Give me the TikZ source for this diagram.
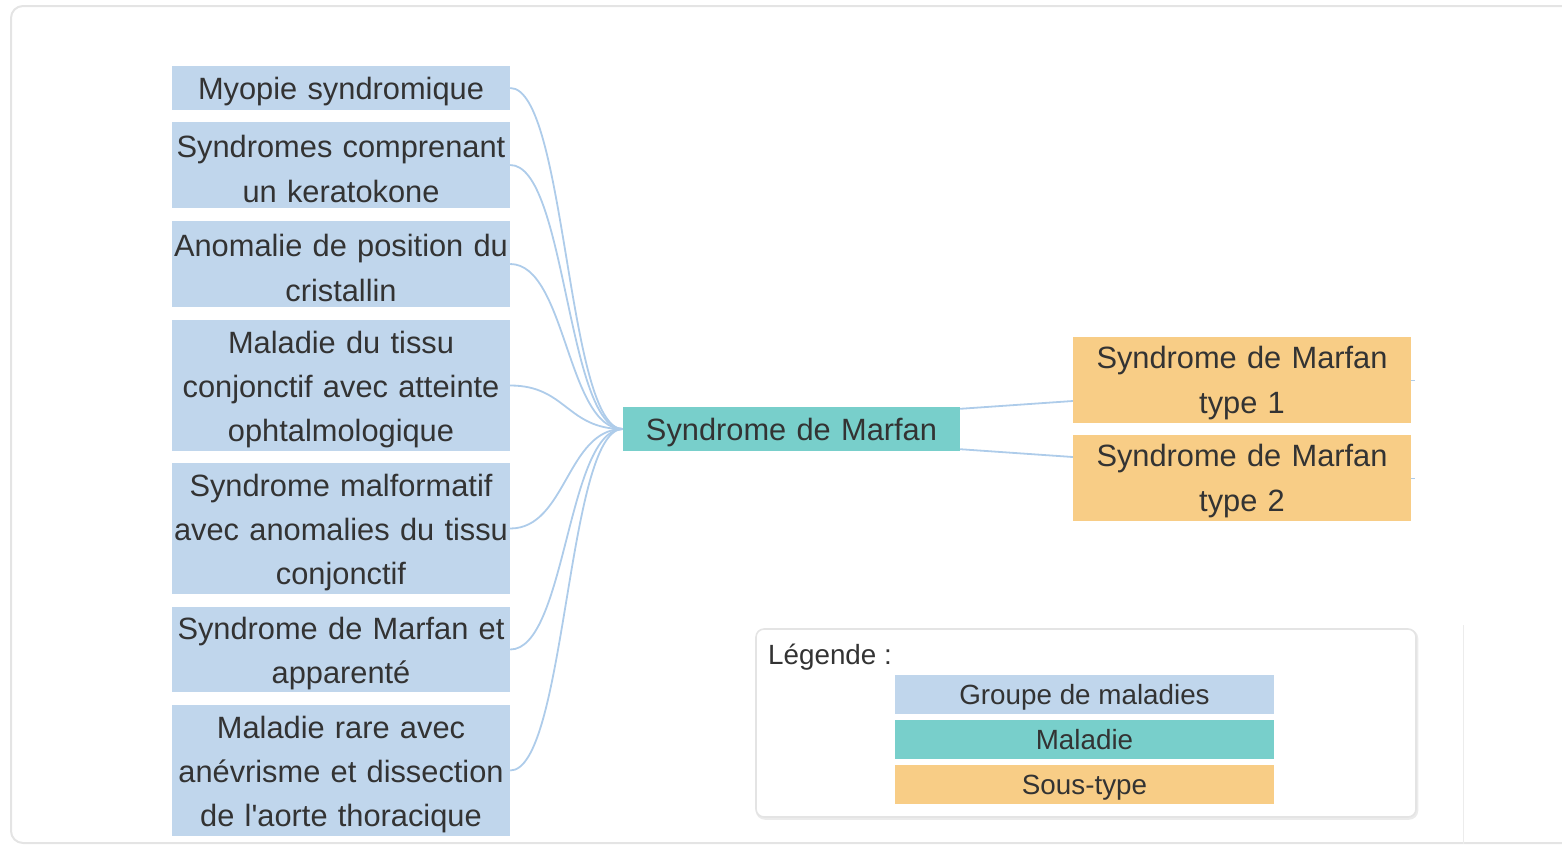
\documentclass[tikz,border=0pt]{standalone}
\usepackage{fontspec}
\setmainfont{Liberation Sans}[Ligatures=TeXOff]
\usetikzlibrary{calc}
\definecolor{grpblue}{HTML}{C0D6EC}
\definecolor{disteal}{HTML}{78CFCB}
\definecolor{suborange}{HTML}{F8CD86}
\definecolor{linkblue}{HTML}{AECCEA}
\definecolor{txtgray}{HTML}{333333}
\definecolor{framegray}{HTML}{E4E4E4}
\tikzset{
  boxshape/.style={inner sep=0pt, minimum width=338pt},
  txt/.style={inner sep=0pt, align=center, text=txtgray, text width=338pt,
    font=\fontsize{30.8}{44.3}\selectfont},
  grpbox/.style={boxshape, fill=grpblue},
  disbox/.style={boxshape, fill=disteal, minimum width=337pt},
  subbox/.style={boxshape, fill=suborange},
  legbox/.style={inner sep=0pt, minimum width=379pt, minimum height=39pt},
  legtxt/.style={inner sep=0pt, align=center, text=txtgray,
    font=\fontsize{27.8}{33}\selectfont},
  link/.style={draw=linkblue, line width=1.8pt},
}
\begin{document}
\begin{tikzpicture}[x=1pt,y=-1pt]
\useasboundingbox (0,0) rectangle (1562,844);
\begin{scope}
\clip (0,0) rectangle (1562,844);
\draw[framegray, line width=2pt, rounded corners=12pt] (11,6) rectangle (1620,843);
\draw[framegray!70, line width=1pt] (1463,625) -- (1463,844);
\end{scope}

% left group nodes (boxes)
\node[grpbox, minimum height=44pt] (b1) at (341,88) {};
\node[grpbox, minimum height=86pt] (b2) at (341,165) {};
\node[grpbox, minimum height=86pt] (b3) at (341,264) {};
\node[grpbox, minimum height=131pt] (b4) at (341,385.5) {};
\node[grpbox, minimum height=131pt] (b5) at (341,528.5) {};
\node[grpbox, minimum height=85pt] (b6) at (341,649.5) {};
\node[grpbox, minimum height=131pt] (b7) at (341,770.5) {};
% texts
\node[txt] (b1t) at ($(b1)+(0,4)$) {Myopie syndromique};
\node[txt] (b2t) at ($(b2)+(0,4)$) {Syndromes comprenant\\un keratokone};
\node[txt] (b3t) at ($(b3)+(0,4)$) {Anomalie de position du\\cristallin};
\node[txt] (b4t) at ($(b4)+(0,4)$) {Maladie du tissu\\conjonctif avec atteinte\\ophtalmologique};
\node[txt] (b5t) at ($(b5)+(0,4)$) {Syndrome malformatif\\avec anomalies du tissu\\conjonctif};
\node[txt] (b6t) at ($(b6)+(0,4)$) {Syndrome de Marfan et\\apparenté};
\node[txt] (b7t) at ($(b7)+(0,4)$) {Maladie rare avec\\anévrisme et dissection\\de l'aorte thoracique};

% central node
\node[disbox, minimum height=44pt] (m) at (791.5,429) {};
\node[txt] (mt) at ($(m)+(0,4)$) {Syndrome de Marfan};

% subtypes
\node[subbox, minimum height=86pt] (s1) at (1242,380) {};
\node[subbox, minimum height=86pt] (s2) at (1242,478) {};
\node[txt] (s1t) at ($(s1)+(0,3)$) {Syndrome de Marfan\\type 1};
\node[txt] (s2t) at ($(s2)+(0,3)$) {Syndrome de Marfan\\type 2};

% connectors
\foreach \b in {b1,b2,b3,b4,b5,b6,b7}{
  \draw[link] (\b.east) .. controls +(56,0) and +(-56,0) .. (m.west);
}
\coordinate (s1in) at ($(s1.west)+(0,21)$);
\coordinate (s2in) at ($(s2.west)+(0,-21)$);
\draw[link] ($(m.north east)+(0,2)$) -- (s1in);
\draw[link] ($(m.south east)+(0,-2)$) -- (s2in);
\coordinate (s1out) at ($(s1.east)+(4,0)$);
\coordinate (s2out) at ($(s2.east)+(4,0)$);
\draw[linkblue, line width=0.8pt] (s1.east) -- (s1out);
\draw[linkblue, line width=0.8pt] (s2.east) -- (s2out);

% legend
\draw[black!8, line width=2.5pt, rounded corners=8pt] (757,630.5) rectangle (1417,818.5);
\draw[framegray, line width=1.6pt, fill=white, rounded corners=8pt] (756,629) rectangle (1416,817);
\node[anchor=west, inner sep=0pt, text=txtgray, font=\fontsize{27.8}{33}\selectfont] (legt) at (768,657) {Légende :};
\node[legbox, fill=grpblue] (l1) at (1084.5,694.5) {};
\node[legbox, fill=disteal] (l2) at (1084.5,739.5) {};
\node[legbox, fill=suborange] (l3) at (1084.5,784.5) {};
\node[legtxt] (l1t) at ($(l1)+(0,3)$) {Groupe de maladies};
\node[legtxt] (l2t) at ($(l2)+(0,0)$) {Maladie};
\node[legtxt] (l3t) at ($(l3)+(0,3)$) {Sous-type};
\end{tikzpicture}
\end{document}
